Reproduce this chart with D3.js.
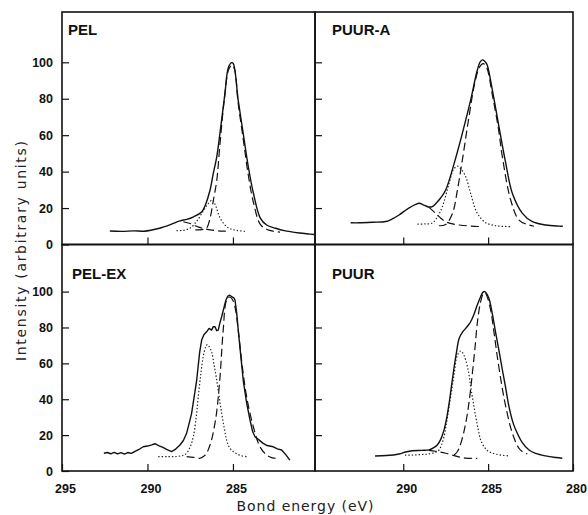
<!DOCTYPE html>
<html><head><meta charset="utf-8">
<script src="https://cdn.jsdelivr.net/npm/d3@7"></script>
<style>body{margin:0;background:#fff}</style>
</head><body>
<svg id="c" width="588" height="515"></svg>
<script>
// ---------- categories / tick labels ----------
const panelNames = ["PEL", "PUUR-A", "PEL-EX", "PUUR"];
const yTickValues = [0, 20, 40, 60, 80, 100];
const xTicksLeft = [295, 290, 285];
const xTicksRight = [290, 285, 280];
const xTitle = "Bond energy (eV)";
const yTitle = "Intensity (arbitrary units)";

// ---------- series: [binding energy (eV), intensity] ----------
// PEL
const pelTotal = [[292.2,7.4],[291.5,7.2],[290.8,7.5],[290.2,7.3],[289.8,7.8],[289.3,8.9],[288.7,10.8],[288.1,13.0],[287.7,13.8],[287.3,15.2],[286.83,17.8],[286.6,22],[286.35,29.5],[286.15,39],[285.95,48],[285.76,61],[285.47,82.8],[285.27,97],[285.08,99.8],[284.98,99.3],[284.69,79],[284.4,61],[284.1,42.6],[283.8,28],[283.4,14.5],[283.03,10.7],[282.5,8.9],[282.0,7.6],[281.1,6.3],[280.6,5.8],[280.26,5.5]];
const pelMain = [[287.2,8.0],[286.8,8.2],[286.55,9],[286.35,14],[286.15,24],[285.95,35],[285.76,55],[285.5,80],[285.25,96],[285.05,98.5],[284.9,96],[284.7,78],[284.4,58],[284.1,38],[283.8,23],[283.4,11],[283.0,8.2],[282.6,7.2],[282.25,6.8]];
const pelSide = [[287.9,12.5],[287.5,11.5],[287.0,9.5],[286.6,8.5],[286.0,7.6],[285.5,7.3],[285.2,7.2]];
const pelDot = [[288.3,7.6],[287.9,7.8],[287.5,9],[287.1,13],[286.7,19],[286.4,23],[286.2,24.4],[286.0,21],[285.8,15.5],[285.5,11],[285.2,8.8],[284.8,7.8],[284.3,7.2]];
// PUUR-A
const puurATotal = [[293.1,11.9],[292.6,11.9],[291.8,12.2],[291.03,12.6],[290.65,14.0],[290.25,16.2],[289.7,19.8],[289.27,22.0],[289.07,22.6],[288.75,21.5],[288.5,20.6],[288.29,20.8],[288.09,22.4],[287.8,25.5],[287.5,29.9],[287.0,44.5],[286.52,61],[286.03,79.2],[285.64,95.6],[285.45,100.5],[285.3,101.3],[285.15,100],[285.05,98.4],[284.75,84.7],[284.36,64.5],[283.96,44.5],[283.57,28],[282.98,17.1],[282.39,12.5],[281.6,10.7],[280.82,10.1],[280.6,10.0]];
const puurAMain = [[287.9,10.3],[287.5,11.0],[287.1,17.1],[286.81,29.9],[286.52,46.3],[286.13,70],[285.8,88],[285.5,97.5],[285.3,99.3],[285.1,97.5],[284.75,82],[284.4,64],[284.16,48],[283.67,24.4],[283.18,13.4],[282.6,10.7],[282.3,10.0]];
const puurASide = [[288.5,20.5],[288.09,17.1],[287.8,14.5],[287.5,12.5],[287.1,11.3],[286.7,10.7],[286.0,10.1],[285.34,9.8]];
const puurADot = [[289.17,11.2],[288.7,11.3],[288.29,11.8],[288.0,15],[287.7,20.7],[287.3,33.5],[287.05,41],[286.81,43],[286.6,41.5],[286.32,37.2],[286.03,28],[285.64,17.1],[285.15,12],[284.7,10.6],[284.36,10.1],[283.67,9.8]];
// PEL-EX
const pelExTotal = [[292.55,9.9],[292.35,10.3],[292.15,9.6],[291.95,10.4],[291.75,9.5],[291.55,10.2],[291.35,9.4],[291.15,10.3],[290.95,9.8],[290.75,10.8],[290.5,12.0],[290.25,13.5],[290.0,13.9],[289.75,14.6],[289.56,15.2],[289.35,14.2],[289.1,13.2],[288.88,12.1],[288.59,10.8],[288.35,12.2],[288.1,14.5],[287.9,17],[287.71,21],[287.42,32],[287.12,50.7],[286.95,66],[286.83,73],[286.7,76],[286.54,77.6],[286.4,79.5],[286.25,78.5],[286.15,80.5],[286.05,80.4],[285.95,78.2],[285.86,78.5],[285.75,83],[285.66,86],[285.5,92],[285.41,95.3],[285.3,97.5],[285.18,98],[285.05,97],[284.95,96.5],[284.88,95.3],[284.78,88],[284.69,78.5],[284.55,65],[284.4,50.7],[284.2,38],[284.0,28.4],[283.85,22],[283.71,19.1],[283.5,17.5],[283.23,15.4],[283.0,14.2],[282.64,13.5],[282.4,12.3],[282.15,11.7],[281.9,9],[281.67,6.1]];
const pelExMain = [[287.71,8.0],[287.3,7.6],[286.93,7.1],[286.7,8.3],[286.54,9.9],[286.4,13],[286.25,17.3],[286.1,24],[285.95,33],[285.76,52],[285.57,78.5],[285.37,95.3],[285.18,97],[285.0,95],[284.85,90],[284.69,78.5],[284.45,58],[284.2,41.4],[283.81,24.7],[283.42,13.5],[283.03,8.9],[282.7,7.3],[282.44,7.1]];
const pelExDot = [[289.37,8.0],[288.8,8.0],[288.29,8.1],[287.9,8.8],[287.71,9.9],[287.5,13.5],[287.32,19.1],[287.15,30],[287.03,41.4],[286.88,54],[286.74,63.7],[286.6,69],[286.5,70.5],[286.4,69.5],[286.25,66.5],[286.1,59],[285.95,50.7],[285.8,41],[285.66,32.1],[285.5,23.5],[285.37,17.3],[285.2,13],[284.98,10.8],[284.6,8.8],[284.2,8.0]];
// PUUR
const puurTotal = [[291.66,8.4],[291.0,8.6],[290.25,9.5],[289.86,10.6],[289.47,11.3],[288.9,11.5],[288.48,11.8],[288.2,13],[288.0,14.5],[287.8,17.5],[287.6,22.8],[287.45,29],[287.3,37.7],[287.15,48],[287.0,58.1],[286.85,67],[286.71,73.9],[286.5,77.5],[286.32,79.5],[286.15,81.5],[286.03,83.2],[285.85,87],[285.64,92.5],[285.45,97],[285.3,99.7],[285.2,100],[285.1,99],[284.95,96.2],[284.75,87.5],[284.55,76.7],[284.35,66.5],[284.16,56.3],[283.96,46],[283.77,35.8],[283.5,26],[283.28,21],[283.0,16],[282.59,11.7],[282.2,9.8],[281.61,8.4],[281.0,7.5],[280.63,7.1]];
const puurMain = [[287.0,8.9],[286.8,11],[286.61,15.4],[286.4,23],[286.22,32.1],[286.05,44],[285.93,54.4],[285.78,68],[285.64,82.3],[285.45,94],[285.3,98.5],[285.18,99.3],[285.05,97],[284.85,89.7],[284.65,77],[284.46,63.7],[284.2,48],[283.96,35.8],[283.57,21],[283.18,12.6],[282.9,10.3],[282.69,9.5]];
const puurSide = [[288.5,11.5],[288.09,11.0],[287.5,9.9],[286.9,8.3],[286.32,7.2],[285.64,7.1]];
const puurDot = [[289.9,8.9],[289.47,8.9],[288.9,9.2],[288.48,9.5],[288.1,10.5],[287.89,11.7],[287.75,14.5],[287.6,19.1],[287.45,27],[287.3,35.8],[287.15,45],[287.0,54.4],[286.81,64.6],[286.61,66.9],[286.45,65],[286.32,61.8],[286.15,55],[286.03,47],[285.88,38.5],[285.73,30.3],[285.58,23],[285.44,17.3],[285.2,13],[284.95,10.8],[284.5,9.3],[283.77,8.4]];

// ---------- layout ----------
const colRange = [[62, 315], [315, 573]];
const colDomain = [[295, 280.2], [295.2, 280]];
const rowRange = [[244.5, 12], [471, 244.5]];   // [y of 0, top edge]
const rowY100 = [62.3, 291.6];

const panels = [
  {name: panelNames[0], col: 0, row: 0, total: pelTotal, dashed: [pelMain, pelSide], dotted: [pelDot], noisy: false},
  {name: panelNames[1], col: 1, row: 0, total: puurATotal, dashed: [puurAMain, puurASide], dotted: [puurADot], noisy: false},
  {name: panelNames[2], col: 0, row: 1, total: pelExTotal, dashed: [pelExMain], dotted: [pelExDot], noisy: true},
  {name: panelNames[3], col: 1, row: 1, total: puurTotal, dashed: [puurMain, puurSide], dotted: [puurDot], noisy: false}
];

const svg = d3.select("#c");
const tickFont = "'Liberation Sans', Arial, Helvetica, sans-serif";

panels.forEach(p => {
  const x = d3.scaleLinear().domain(colDomain[p.col]).range(colRange[p.col]);
  const y = d3.scaleLinear().domain([0, 100]).range([rowRange[p.row][0], rowY100[p.row]]);
  const g = svg.append("g");
  const x0 = colRange[p.col][0], x1 = colRange[p.col][1];
  const yb = rowRange[p.row][0], yt = rowRange[p.row][1];

  // y axis (ticks inward)
  const ya = g.append("g").attr("transform", `translate(${x0},0)`)
    .call(d3.axisLeft(y)
      .tickValues(p.col === 0 ? yTickValues : yTickValues.slice(1))
      .tickSizeInner(-7).tickSizeOuter(0).tickPadding(9)
      .tickFormat(p.col === 0 ? d3.format("d") : ""));
  ya.select(".domain").remove();
  ya.selectAll("line").attr("stroke", "#111").attr("stroke-width", 1.2);
  ya.selectAll("text").attr("font-family", tickFont).attr("font-size", 12.5)
    .attr("font-weight", "bold").attr("fill", "#111");

  // x axis (ticks inward)
  let xt, fmt;
  if (p.row === 0) { xt = [290, 285]; fmt = ""; }
  else { xt = p.col === 0 ? xTicksLeft : xTicksRight; fmt = d3.format("d"); }
  const xa = g.append("g").attr("transform", `translate(0,${yb})`)
    .call(d3.axisBottom(x).tickValues(xt).tickSizeInner(-7).tickSizeOuter(0)
      .tickPadding(13.5).tickFormat(fmt));
  xa.select(".domain").remove();
  xa.selectAll("line").attr("stroke", "#111").attr("stroke-width", 1.2);
  xa.selectAll("text").attr("font-family", tickFont).attr("font-size", 12.5)
    .attr("font-weight", "bold").attr("fill", "#111").attr("dx", "3");

  // frame
  g.append("rect").attr("x", x0).attr("y", yt).attr("width", x1 - x0).attr("height", yb - yt)
    .attr("fill", "none").attr("stroke", "#111").attr("stroke-width", 1.6);

  const smooth = d3.line().x(d => x(d[0])).y(d => y(d[1])).curve(d3.curveCatmullRom.alpha(0.5));
  const rough = d3.line().x(d => x(d[0])).y(d => y(d[1])).curve(d3.curveLinear);

  p.dotted.forEach(s => g.append("path").attr("d", smooth(s)).attr("fill", "none")
    .attr("stroke", "#222").attr("stroke-width", 1.2).attr("stroke-dasharray", "1.4,2"));
  p.dashed.forEach(s => g.append("path").attr("d", smooth(s)).attr("fill", "none")
    .attr("stroke", "#111").attr("stroke-width", 1.2).attr("stroke-dasharray", "8,4"));
  g.append("path").attr("d", (p.noisy ? rough : smooth)(p.total)).attr("fill", "none")
    .attr("stroke", "#111").attr("stroke-width", 1.4).attr("stroke-linejoin", "round");

  // panel label
  g.append("text").attr("x", x0 + (p.col === 0 ? (p.row === 0 ? 6 : 10) : 17))
    .attr("y", yt + (p.row === 0 ? 23 : 34))
    .attr("font-family", tickFont).attr("font-size", 15).attr("font-weight", "bold")
    .attr("fill", "#111").text(p.name);
});

// axis titles
svg.append("text").attr("x", 305).attr("y", 511).attr("text-anchor", "middle")
  .attr("font-family", "'DejaVu Sans', Verdana, sans-serif").attr("font-size", 14)
  .attr("fill", "#222").attr("textLength", 137).attr("lengthAdjust", "spacing").text(xTitle);
svg.append("text").attr("transform", "translate(25.5,251) rotate(-90)").attr("text-anchor", "middle")
  .attr("font-family", "'DejaVu Sans', Verdana, sans-serif").attr("font-size", 14)
  .attr("fill", "#222").attr("textLength", 220).attr("lengthAdjust", "spacing").text(yTitle);
</script>
</body></html>
